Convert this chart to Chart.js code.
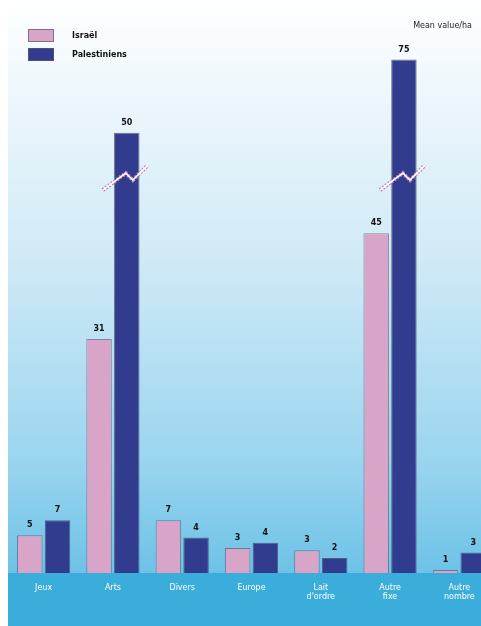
<!DOCTYPE html>
<html>
<head>
<meta charset="utf-8">
<script src="https://cdn.jsdelivr.net/npm/chart.js@4.4.0/dist/chart.umd.min.js"></script>
<style>
  html, body { margin: 0; padding: 0; background: #ffffff; overflow: hidden; width: 481px; height: 626px; }
  canvas { display: block; }
</style>
</head>
<body>
<canvas id="c" width="494" height="626"></canvas>
<script>
// ---- data ----
const categories = [["Jeux"], ["Arts"], ["Divers"], ["Europe"], ["Lait", "d'ordre"], ["Autre", "fixe"], ["Autre", "nombre"]];
const seriesNames = ["Israël", "Palestiniens"];
const pinkValues = [5, 31, 7, 3.3, 3, 45, 0.4];
const navyValues = [7, 58.3, 4.7, 4, 2, 68, 2.7];   // drawn heights (2 bars broken)
const pinkLabels = ["5", "31", "7", "3", "3", "45", "1"];
const navyLabels = ["7", "50", "4", "4", "2", "75", "3"];
const brokenNavy = [false, true, false, false, false, true, false];
const breakValue = 52.3;
const yMax = 70;
const unitNote = "Mean value/ha";

const PINK = "#d8a5c9";
const NAVY = "#323c8e";

const bgPlugin = {
  id: "bg",
  beforeDraw(chart) {
    const ctx = chart.ctx;
    const area = chart.chartArea;
    const W = chart.width;
    ctx.save();
    const g = ctx.createLinearGradient(0, 0, 0, area.bottom);
    g.addColorStop(0, "#ffffff");
    g.addColorStop(0.12, "#f2f9fd");
    g.addColorStop(0.45, "#d0eaf6");
    g.addColorStop(0.8, "#9bd5ef");
    g.addColorStop(1, "#6dc2e7");
    ctx.fillStyle = g;
    ctx.fillRect(8, 0, W - 8, area.bottom);
    ctx.fillStyle = "#3aaddb";
    ctx.fillRect(8, area.bottom, W - 8, chart.height - area.bottom);
    ctx.restore();
  },
  afterDatasetsDraw(chart) {
    const ctx = chart.ctx;
    const y = chart.scales.y;
    ctx.save();
    // value labels
    ctx.font = "bold 8px 'DejaVu Sans', sans-serif";
    ctx.fillStyle = "#111";
    ctx.textAlign = "center";
    ctx.textBaseline = "bottom";
    [pinkLabels, navyLabels].forEach((labs, di) => {
      chart.getDatasetMeta(di).data.forEach((el, i) => {
        ctx.fillText(labs[i], el.x, el.y - 6);
      });
    });
    // break marks
    const by = y.getPixelForValue(breakValue);
    chart.getDatasetMeta(1).data.forEach((el, i) => {
      if (!brokenNavy[i]) return;
      const pts = [[el.x - 24, by + 12], [el.x - 1, by - 5], [el.x + 6, by + 2], [el.x + 21, by - 13]];
      ctx.lineJoin = "miter";
      ctx.strokeStyle = "#c47db6";
      ctx.lineWidth = 4;
      ctx.setLineDash([2, 1.5]);
      ctx.beginPath();
      pts.forEach((p, k) => k ? ctx.lineTo(p[0], p[1]) : ctx.moveTo(p[0], p[1]));
      ctx.stroke();
      ctx.setLineDash([]);
      ctx.strokeStyle = "#ffffff";
      ctx.lineWidth = 1.6;
      ctx.beginPath();
      pts.forEach((p, k) => k ? ctx.lineTo(p[0], p[1]) : ctx.moveTo(p[0], p[1]));
      ctx.stroke();
    });
    ctx.restore();
  },
  afterDraw(chart) {
    const ctx = chart.ctx;
    ctx.save();
    // legend
    const items = [[PINK, seriesNames[0], 29], [NAVY, seriesNames[1], 48]];
    items.forEach(([col, name, top]) => {
      ctx.fillStyle = col;
      ctx.fillRect(28, top, 26, 13);
      ctx.strokeStyle = "rgba(90,90,110,0.7)";
      ctx.lineWidth = 1;
      ctx.strokeRect(28.5, top + 0.5, 25, 12);
      ctx.fillStyle = "#111";
      ctx.font = "bold 8px 'DejaVu Sans', sans-serif";
      ctx.textAlign = "left";
      ctx.textBaseline = "middle";
      ctx.fillText(name, 72, top + 6.5);
    });
    ctx.font = "8px 'DejaVu Sans', sans-serif";
    ctx.textAlign = "right";
    ctx.fillStyle = "#222";
    ctx.fillText(unitNote, 472, 26);
    ctx.restore();
  }
};

new Chart(document.getElementById("c"), {
  type: "bar",
  data: {
    labels: categories,
    datasets: [
      { label: seriesNames[0], data: pinkValues, backgroundColor: PINK, borderColor: "rgba(80,80,100,0.6)", borderWidth: 1 },
      { label: seriesNames[1], data: navyValues, backgroundColor: NAVY, borderColor: "rgba(60,60,80,0.7)", borderWidth: 1 }
    ]
  },
  options: {
    responsive: false,
    animation: false,
    events: [],
    layout: { padding: { left: 9, right: 0, top: 44.5, bottom: 0 } },
    plugins: { legend: { display: false }, tooltip: { enabled: false } },
    datasets: { bar: { categoryPercentage: 0.8, barPercentage: 0.92 } },
    scales: {
      x: {
        grid: { display: false, drawTicks: false },
        border: { display: false },
        ticks: { color: "#ffffff", font: { size: 8, family: "'DejaVu Sans', sans-serif" }, padding: 10, maxRotation: 0, autoSkip: false },
        afterFit(s) { s.height = 53; }
      },
      y: { display: false, min: 0, max: yMax }
    }
  },
  plugins: [bgPlugin]
});
</script>
</body>
</html>
